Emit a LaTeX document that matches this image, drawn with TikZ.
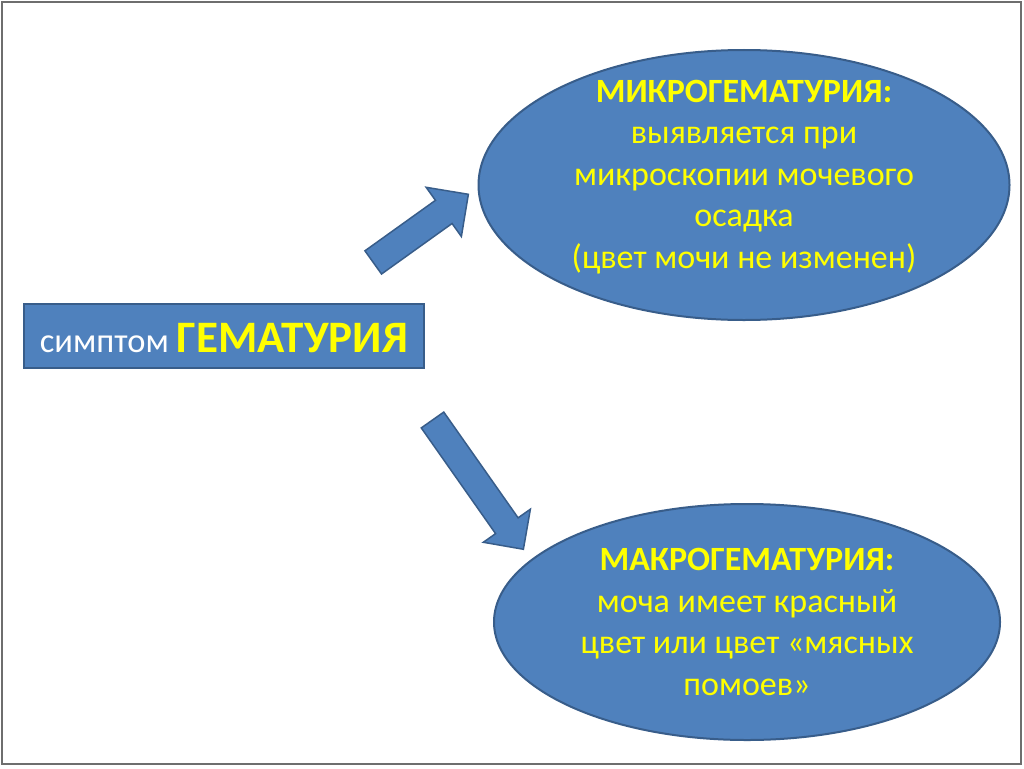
\documentclass[tikz,border=0pt]{standalone}
\usepackage{fontspec}
\setmainfont{Carlito}
\usetikzlibrary{shapes.geometric,shapes.arrows}
\definecolor{bfill}{RGB}{79,129,189}
\definecolor{bline}{RGB}{56,93,138}
\definecolor{ytext}{RGB}{255,255,0}
\definecolor{frame}{RGB}{110,110,110}
\tikzset{
  blob/.style={ellipse, fill=bfill, draw=bline, line width=2pt, inner sep=0pt},
  blockarrow/.style={single arrow, fill=bfill, draw=bline, line width=1.5pt, inner xsep=0pt,
     single arrow head indent=0pt, single arrow tip angle=90, anchor=center},
  etext/.style={align=center, text=ytext, font=\fontsize{34}{41.5}\selectfont, inner sep=0pt},
}
\begin{document}
\begin{tikzpicture}[x=1pt,y=-1pt]
\useasboundingbox (0,0) rectangle (1024,768);
\fill[white] (0,0) rectangle (1024,768);
\draw[frame, line width=2pt] (2,2) rectangle (1021,764);
% main box
\node[fill=bfill, draw=bline, line width=2pt, minimum width=400pt, minimum height=64pt, inner sep=0pt] (main) at (224,336) {};
\node[inner sep=0pt, anchor=base] (maintext) at (224,352) {\fontsize{34.5}{34.5}\selectfont\color{white}симптом \fontsize{45}{45}\selectfont\bfseries\color{ytext}ГЕМАТУРИЯ};
% ellipses
\node[blob, minimum width=531pt, minimum height=270pt] (micro) at (744,185) {};
\node[etext] (microtext) at (744,177) {\textbf{МИКРОГЕМАТУРИЯ:}\\выявляется при\\микроскопии мочевого\\осадка\\(цвет мочи не изменен)};
\node[blob, minimum width=506pt, minimum height=236pt] (macro) at (747,622) {};
\node[etext] (macrotext) at (747,622) {\textbf{МАКРОГЕМАТУРИЯ:}\\моча имеет красный\\цвет или цвет «мясных\\помоев»};
% arrows
\node[blockarrow, minimum height=117pt, inner ysep=13.5pt, single arrow head extend=16pt, rotate=35.6] (up) at (415,232.5) {};
\node[blockarrow, minimum height=158pt, inner ysep=13pt, single arrow head extend=15pt, rotate=-54.9] (down) at (474,479) {};
\end{tikzpicture}
\end{document}
